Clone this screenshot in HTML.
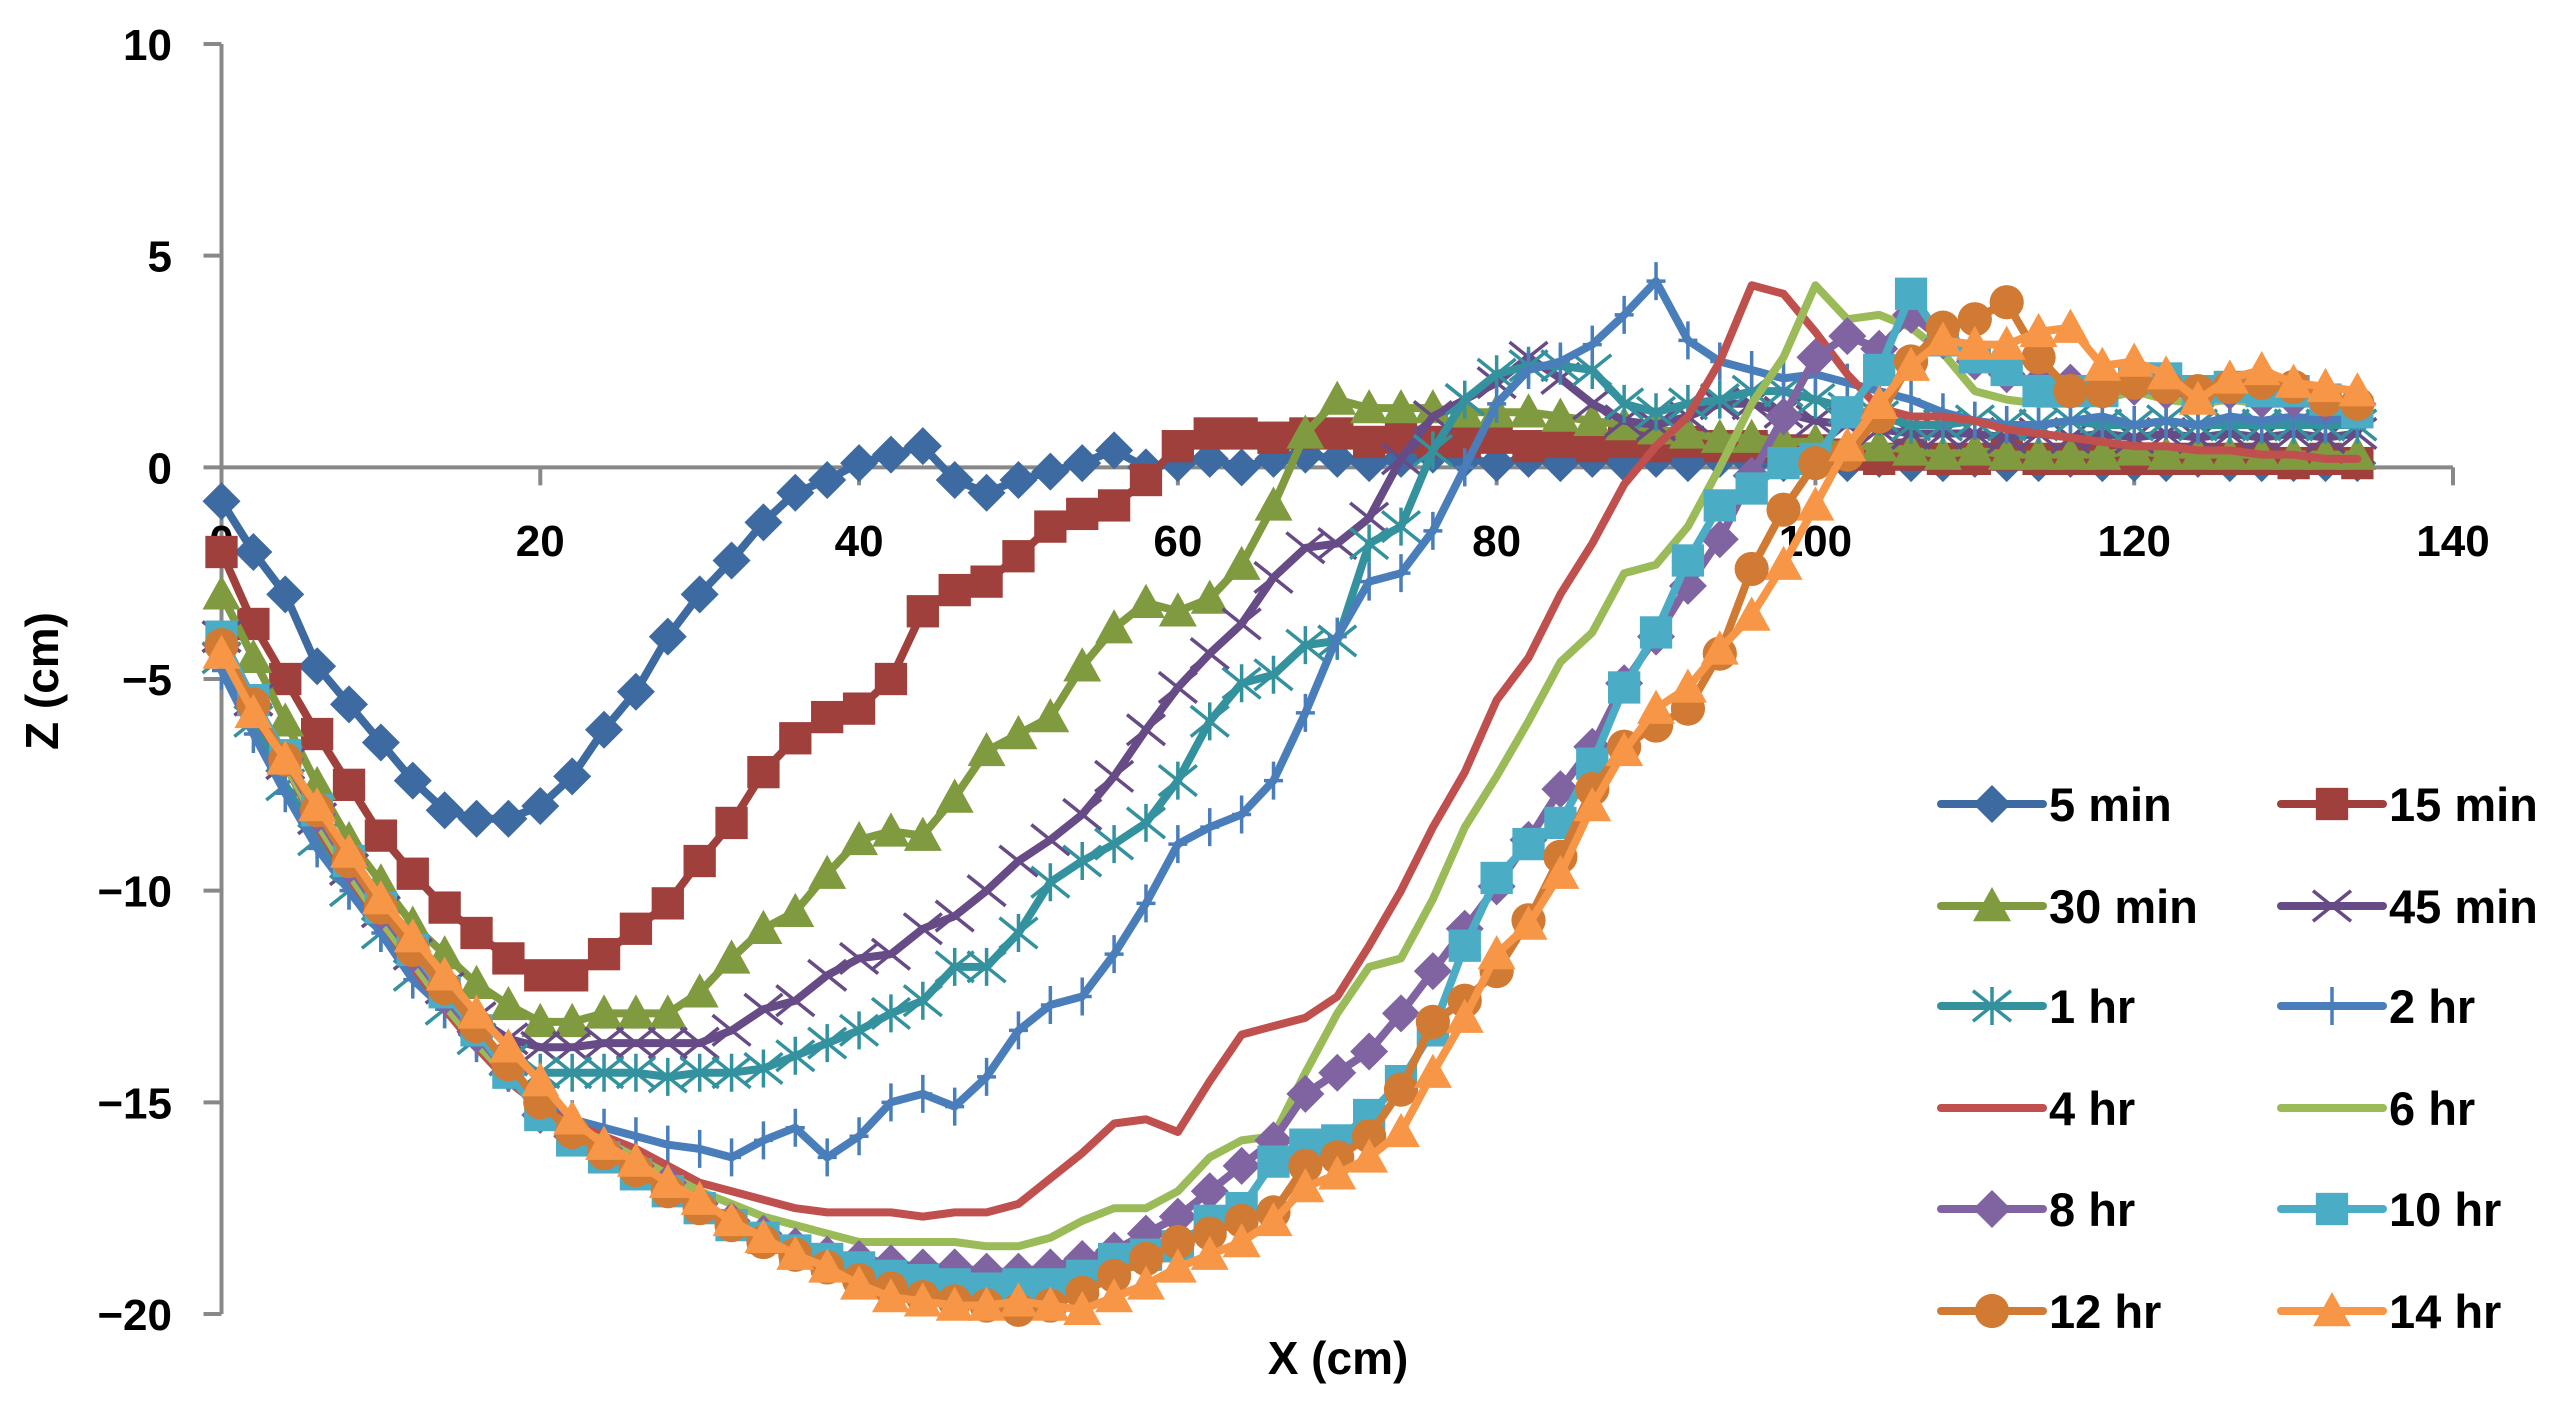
<!DOCTYPE html>
<html><head><meta charset="utf-8"><style>
html,body{margin:0;padding:0;background:#fff;}
svg{display:block;font-family:"Liberation Sans",sans-serif;font-weight:bold;}
</style></head><body>
<svg id="chart" width="2560" height="1406" viewBox="0 0 2560 1406" xmlns="http://www.w3.org/2000/svg">
<g id="axes"></g>
<g id="series"></g>
<g id="legend"></g>
</svg>
<script>
const xValues = [0,2,4,6,8,10,12,14,16,18,20,22,24,26,28,30,32,34,36,38,40,42,44,46,48,50,52,54,56,58,60,62,64,66,68,70,72,74,76,78,80,82,84,86,88,90,92,94,96,98,100,102,104,106,108,110,112,114,116,118,120,122,124,126,128,130,132,134];
const seriesNames = ["5 min","15 min","30 min","45 min","1 hr","2 hr","4 hr","6 hr","8 hr","10 hr","12 hr","14 hr"];
const s5min = [-0.8,-2,-3,-4.7,-5.6,-6.5,-7.4,-8.1,-8.3,-8.3,-8,-7.3,-6.2,-5.3,-4,-3,-2.2,-1.3,-0.6,-0.3,0.1,0.3,0.5,-0.3,-0.6,-0.3,-0.1,0.1,0.4,0,0.1,0.2,0,0.2,0.3,0.2,0.1,0.2,0.3,0.2,0.1,0.2,0.1,0.2,0.1,0.2,0.1,0.2,0.1,0.1,0.2,0.1,0.2,0.1,0.1,0.2,0.1,0.1,0.2,0.1,0.1,0.1,0.2,0.1,0.1,0.1,0.1,0.1];
const s15min = [-2,-3.7,-5,-6.3,-7.5,-8.7,-9.6,-10.4,-11,-11.6,-12,-12,-11.5,-10.9,-10.3,-9.3,-8.4,-7.2,-6.4,-5.9,-5.7,-5,-3.4,-2.9,-2.7,-2.1,-1.4,-1.1,-0.9,-0.3,0.5,0.8,0.8,0.7,0.8,0.8,0.6,0.7,0.6,0.6,0.7,0.5,0.6,0.5,0.6,0.5,0.6,0.5,0.5,0.4,0.4,0.3,0.2,0.3,0.2,0.2,0.3,0.2,0.2,0.2,0.2,0.2,0.2,0.2,0.2,0.1,0.2,0.1];
const s30min = [-3,-4.5,-6,-7.5,-8.8,-9.8,-10.8,-11.5,-12.2,-12.7,-13.1,-13.1,-12.9,-12.9,-12.9,-12.4,-11.6,-10.9,-10.5,-9.6,-8.8,-8.6,-8.7,-7.8,-6.7,-6.3,-5.9,-4.7,-3.8,-3.2,-3.4,-3.1,-2.3,-0.9,0.8,1.6,1.4,1.4,1.4,1.3,1.3,1.3,1.2,1.1,1.0,0.9,0.8,0.7,0.7,0.6,0.6,0.5,0.5,0.4,0.3,0.4,0.3,0.3,0.3,0.3,0.4,0.3,0.3,0.3,0.3,0.3,0.3,0.3];
const s45min = [-4,-5.5,-7,-8.3,-9.5,-10.5,-11.5,-12.3,-13,-13.5,-13.7,-13.7,-13.6,-13.6,-13.6,-13.6,-13.3,-12.8,-12.6,-12,-11.6,-11.5,-10.9,-10.6,-10,-9.3,-8.8,-8.2,-7.3,-6.2,-5.2,-4.4,-3.7,-2.6,-1.9,-1.8,-1.2,0.2,1.2,1.6,2,2.6,2.1,1.5,1.1,1.0,1.2,1.5,1.5,1.3,1.1,1.0,0.9,0.8,0.8,0.8,0.7,0.8,0.7,0.8,0.7,0.8,0.7,0.8,0.7,0.8,0.7,0.8];
const s1hr = [-4.5,-6,-7.5,-8.8,-10,-11,-12,-12.8,-13.5,-14,-14.3,-14.3,-14.3,-14.3,-14.4,-14.3,-14.3,-14.2,-13.9,-13.6,-13.3,-12.9,-12.6,-11.8,-11.8,-11,-9.8,-9.3,-8.9,-8.4,-7.4,-6,-5.1,-4.9,-4.2,-4.1,-1.8,-1.4,0.4,1.6,2.2,2.4,2.4,2.3,1.5,1.3,1.5,1.6,1.8,1.8,1.6,1.4,1.2,1.0,1.0,1.1,1.0,1.0,1.1,1.0,1.0,1.1,1.0,1.0,1.0,1.0,1.0,1.0];
const s2hr = [-4.8,-6.3,-7.7,-9,-10,-11,-12.1,-12.8,-13.6,-14.3,-15,-15.4,-15.6,-15.8,-16,-16.1,-16.3,-15.9,-15.6,-16.3,-15.8,-15,-14.8,-15.1,-14.4,-13.3,-12.7,-12.5,-11.5,-10.3,-8.9,-8.5,-8.2,-7.4,-5.8,-4,-2.7,-2.5,-1.5,0,1.5,2.3,2.5,2.9,3.6,4.4,3,2.5,2.3,2.1,2.2,2.0,1.8,1.6,1.3,1.1,1.0,1.0,1.1,1.2,1.0,1.1,1.0,1.2,1.1,1.2,1.1,1.2];
const s4hr = [-4.3,-5.8,-7,-8.5,-9.7,-10.7,-11.8,-12.8,-13.7,-14.5,-15.1,-15.5,-15.8,-16.1,-16.5,-16.9,-17.1,-17.3,-17.5,-17.6,-17.6,-17.6,-17.7,-17.6,-17.6,-17.4,-16.8,-16.2,-15.5,-15.4,-15.7,-14.5,-13.4,-13.2,-13,-12.5,-11.3,-10,-8.5,-7.2,-5.5,-4.5,-3,-1.8,-0.4,0.5,1.2,2.5,4.3,4.1,3.2,2.2,1.4,1.2,1.2,1.1,0.9,0.8,0.7,0.6,0.5,0.5,0.4,0.4,0.3,0.3,0.2,0.2];
const s6hr = [-4.3,-5.7,-7,-8.4,-9.6,-10.7,-11.7,-12.7,-13.6,-14.4,-15.1,-15.6,-15.9,-16.3,-16.7,-17.1,-17.4,-17.7,-17.9,-18.1,-18.3,-18.3,-18.3,-18.3,-18.4,-18.4,-18.2,-17.8,-17.5,-17.5,-17.1,-16.3,-15.9,-15.8,-14.3,-12.9,-11.8,-11.6,-10.2,-8.5,-7.3,-6,-4.6,-3.9,-2.5,-2.3,-1.4,0,1.5,2.6,4.3,3.5,3.6,3.3,2.7,1.8,1.6,1.5,1.5,1.6,1.8,1.6,1.5,1.6,1.5,1.5,1.5,1.5];
const s8hr = [-4.2,-5.6,-6.9,-8.2,-9.4,-10.5,-11.5,-12.5,-13.4,-14.3,-15.3,-15.8,-16.1,-16.5,-16.9,-17.4,-17.8,-18.1,-18.4,-18.6,-18.7,-18.8,-18.9,-18.9,-19,-19,-18.9,-18.7,-18.5,-18.1,-17.7,-17.1,-16.5,-15.9,-14.8,-14.3,-13.8,-12.9,-11.9,-10.9,-9.9,-8.8,-7.6,-6.6,-5.1,-4,-2.8,-1.7,-0.2,1.2,2.6,3.1,2.8,3.6,3.0,2.5,2.2,2.0,2.0,1.8,1.9,1.8,1.7,1.8,1.6,1.6,1.5,1.5];
const s10hr = [-4,-5.5,-6.8,-8.1,-9.3,-10.4,-11.4,-12.4,-13.3,-14.3,-15.3,-15.9,-16.3,-16.7,-17.1,-17.5,-17.9,-18.2,-18.5,-18.7,-18.9,-19.1,-19.2,-19.3,-19.4,-19.3,-19.3,-19.1,-18.7,-18.6,-18.4,-17.8,-17.5,-16.4,-16,-15.9,-15.3,-14.5,-13.3,-11.3,-9.7,-8.9,-8.4,-7,-5.2,-3.9,-2.2,-0.9,-0.5,0.1,0.2,1.3,2.3,4.1,3.0,2.6,2.3,1.8,1.8,1.8,2.1,2.1,1.8,1.9,1.8,1.8,1.6,1.3];
const s12hr = [-4.2,-5.6,-6.9,-8.1,-9.3,-10.4,-11.4,-12.3,-13.2,-14.1,-15,-15.7,-16.2,-16.6,-17.1,-17.5,-17.9,-18.3,-18.6,-18.9,-19.2,-19.4,-19.6,-19.7,-19.8,-19.9,-19.8,-19.5,-19.1,-18.7,-18.3,-18.1,-17.8,-17.6,-16.5,-16.3,-15.8,-14.7,-13.1,-12.6,-11.9,-10.7,-9.2,-7.6,-6.6,-6.1,-5.7,-4.4,-2.4,-1.0,0.1,0.3,1.2,2.5,3.3,3.5,3.9,2.6,1.8,1.8,2.0,1.9,1.8,1.9,2.0,1.9,1.6,1.5];
const s14hr = [-4.4,-5.8,-6.9,-8,-9.1,-10.2,-11.1,-12,-12.9,-13.7,-14.5,-15.4,-16,-16.4,-16.9,-17.3,-17.8,-18.2,-18.6,-18.9,-19.3,-19.6,-19.7,-19.8,-19.8,-19.7,-19.8,-19.9,-19.6,-19.3,-18.9,-18.6,-18.3,-17.8,-17,-16.7,-16.3,-15.7,-14.3,-13,-11.5,-10.8,-9.6,-8,-6.7,-5.7,-5.2,-4.3,-3.5,-2.3,-0.9,0.5,1.5,2.4,3.0,2.9,2.9,3.2,3.3,2.4,2.5,2.2,1.6,2.1,2.3,2.0,1.9,1.8];
const xTicks = [0,20,40,60,80,100,120,140];
const yTicks = [10,5,0,-5,-10,-15,-20];
const allSeries = [s5min,s15min,s30min,s45min,s1hr,s2hr,s4hr,s6hr,s8hr,s10hr,s12hr,s14hr];

const colors = ["#3C6AA1","#A0403C","#7F9A3F","#674B86","#34929F","#4A7EBB","#C0504D","#9BBB59","#8064A2","#4BACC6","#D07A33","#F79646"];
const markers = ["diamond","square","triangle","x","star","plus","none","none","diamond","square","circle","triangle"];
const NS="http://www.w3.org/2000/svg";
const X0=221.5, XS=(2453-221.5)/140, YTOP=44, YS=(1314-44)/30;
function sx(x){return X0+x*XS;}
function sy(z){return YTOP+(10-z)*YS;}
function mk(tag,attrs,parent){const e=document.createElementNS(NS,tag);for(const k in attrs)e.setAttribute(k,attrs[k]);parent.appendChild(e);return e;}

const axes=document.getElementById('axes');
let yl=mk('line',{x1:sx(0),y1:sy(10),x2:sx(0),y2:sy(-20),stroke:'#888',"stroke-width":4},axes);


let xl=mk('line',{x1:sx(0),y1:sy(0),x2:sx(140),y2:sy(0),stroke:'#888',"stroke-width":4},axes);


yTicks.forEach(v=>{
  let t=mk('line',{x1:sx(0)-18,y1:sy(v),x2:sx(0),y2:sy(v),stroke:'#888',"stroke-width":4},axes);
  
  
  let l=mk('text',{x:172,y:sy(v)+16,"text-anchor":"end","font-size":44},axes);
  
  
  l.textContent=v<0?'\u2212'+(-v):String(v);
});
xTicks.forEach(v=>{
  let t=mk('line',{x1:sx(v),y1:sy(0),x2:sx(v),y2:sy(0)+18,stroke:'#888',"stroke-width":4},axes);
  
  
  let l=mk('text',{x:sx(v),y:556,"text-anchor":"middle","font-size":44},axes);
  
  
  l.textContent=String(v);
});
let xt=mk('text',{x:1338,y:1374,"text-anchor":"middle","font-size":46},axes);


xt.textContent='X (cm)';
let yt=mk('text',{x:0,y:0,"text-anchor":"middle","font-size":46,transform:"translate(58,681) rotate(-90)"},axes);


yt.textContent='Z (cm)';

function drawMarker(type,cx,cy,color,parent,s){
  let e=null;
  if(type==='diamond'){e=mk('path',{d:`M${cx} ${cy-s}L${cx+s} ${cy}L${cx} ${cy+s}L${cx-s} ${cy}Z`,fill:color},parent);}
  else if(type==='square'){e=mk('rect',{x:cx-s*0.85,y:cy-s*0.85,width:s*1.7,height:s*1.7,fill:color},parent);}
  else if(type==='triangle'){e=mk('path',{d:`M${cx} ${cy-s}L${cx+s} ${cy+s*0.8}L${cx-s} ${cy+s*0.8}Z`,fill:color},parent);}
  else if(type==='circle'){e=mk('circle',{cx:cx,cy:cy,r:s*0.9,fill:color},parent);}
  else if(type==='x'){e=mk('path',{d:`M${cx-s} ${cy-s*0.8}L${cx+s} ${cy+s*0.8}M${cx+s} ${cy-s*0.8}L${cx-s} ${cy+s*0.8}`,stroke:color,"stroke-width":3.5,fill:"none"},parent);}
  else if(type==='star'){e=mk('path',{d:`M${cx-s} ${cy-s*0.8}L${cx+s} ${cy+s*0.8}M${cx+s} ${cy-s*0.8}L${cx-s} ${cy+s*0.8}M${cx} ${cy-s}L${cx} ${cy+s}`,stroke:color,"stroke-width":3.5,fill:"none"},parent);}
  else if(type==='plus'){e=mk('path',{d:`M${cx} ${cy-s}L${cx} ${cy+s}M${cx-s*0.5} ${cy}L${cx+s*0.5} ${cy}`,stroke:color,"stroke-width":3.5,fill:"none"},parent);}
  return e;
}

const sg=document.getElementById('series');
allSeries.forEach((arr,i)=>{
  const g=mk('g',{},sg);
  
  
  const d=arr.map((z,j)=>(j?'L':'M')+sx(xValues[j]).toFixed(1)+' '+sy(z).toFixed(1)).join('');
  const p=mk('path',{d:d,fill:'none',stroke:colors[i],"stroke-width":8,"stroke-linejoin":"round","stroke-linecap":"round"},g);
  
  
  if(markers[i]!=='none'){
    arr.forEach((z,j)=>{
      const m=drawMarker(markers[i],sx(xValues[j]),sy(z),colors[i],g,19);
      
      
    });
  }
});

const lg=document.getElementById('legend');
const rowY=[804,906,1006,1108,1209,1311];
seriesNames.forEach((n,i)=>{
  const col=i%2,row=Math.floor(i/2);
  const lx=col?2281:1941, y=rowY[row];
  const g=mk('g',{},lg);
  
  
  mk('line',{x1:lx,y1:y,x2:lx+102,y2:y,stroke:colors[i],"stroke-width":8,"stroke-linecap":"round"},g);
  if(markers[i]!=='none')drawMarker(markers[i],lx+51,y,colors[i],g,19);
  const t=mk('text',{x:lx+108,y:y+17,"font-size":47},g);
  t.textContent=n;
});
</script>
</body></html>
